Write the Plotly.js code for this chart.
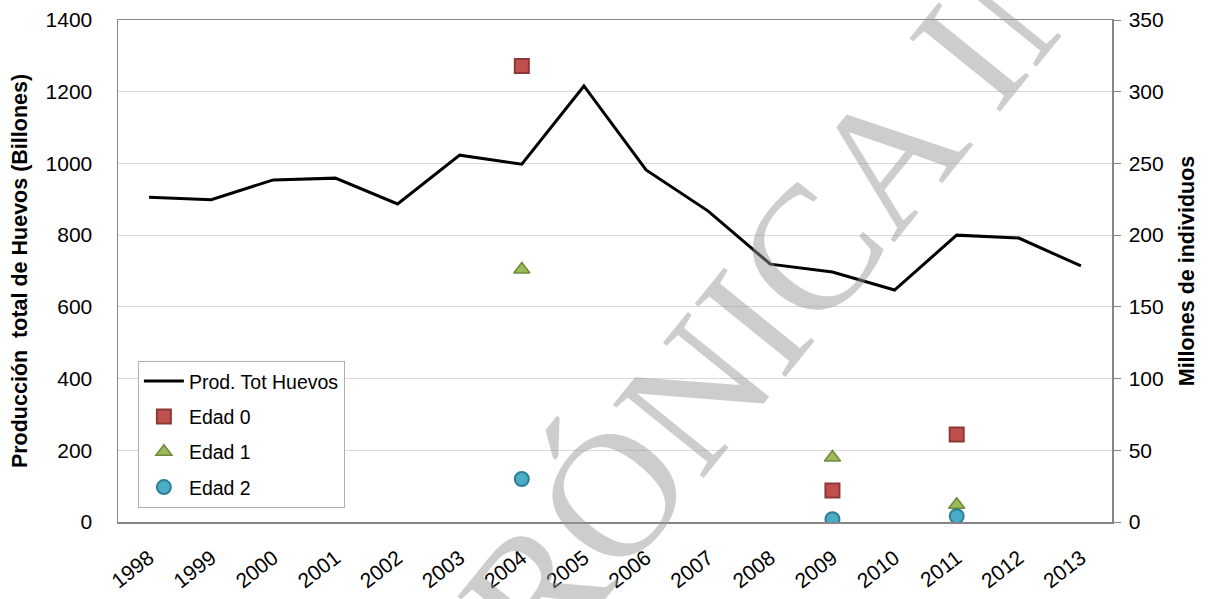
<!DOCTYPE html>
<html>
<head>
<meta charset="utf-8">
<script src="https://cdn.plot.ly/plotly-3.0.1.min.js"></script>
<style>html,body{margin:0;padding:0;background:#fff;}#chart{width:1217px;height:599px;}</style>
</head>
<body>
<div id="chart"></div>
<script>
const years = ["1998","1999","2000","2001","2002","2003","2004","2005","2006","2007","2008","2009","2010","2011","2012","2013"];
const prodTotHuevos = [906, 899, 954, 959, 887, 1023, 998, 1216, 982, 867, 719, 697, 647, 800, 792, 714];
const edadYears = ["2004", "2009", "2011"];
const edad0 = [318, 22, 61];
const edad1 = [176, 45, 12];
const edad2 = [30, 2, 4];

const FONT = "Liberation Sans, Arial, sans-serif";

const traces = [
  {x: years, y: prodTotHuevos, type: "scatter", mode: "lines", name: "Prod. Tot Huevos",
   legendgroup: "a", line: {color: "#000000", width: 3}, yaxis: "y"},
  {x: edadYears, y: edad0, type: "scatter", mode: "markers", name: "Edad 0", yaxis: "y2",
   legendgroup: "b",
   marker: {symbol: "square", size: 14, color: "#C0504D", line: {color: "#8C3836", width: 2}}},
  {x: edadYears, y: edad1, type: "scatter", mode: "markers", name: "Edad 1", yaxis: "y2",
   legendgroup: "c",
   marker: {symbol: "triangle-up", size: 14, color: "#9BBB59", line: {color: "#71893F", width: 1.5}}},
  {x: edadYears, y: edad2, type: "scatter", mode: "markers", name: "Edad 2", yaxis: "y2",
   legendgroup: "d",
   marker: {symbol: "circle", size: 14, color: "#4BACC6", line: {color: "#2C7F96", width: 2}}}
];

const layout = {
  width: 1217, height: 599,
  margin: {l: 118, r: 105, t: 20, b: 77},
  paper_bgcolor: "#ffffff", plot_bgcolor: "#ffffff",
  font: {family: FONT, color: "#000000"},
  showlegend: true,
  legend: {x: 0.02, y: 0.321, xanchor: "left", yanchor: "top",
    bgcolor: "#ffffff", bordercolor: "#b0b0b0", borderwidth: 1,
    font: {family: FONT, size: 19.5, color: "#000"}, tracegroupgap: 7, itemwidth: 40},
  xaxis: {type: "category", categoryorder: "array", categoryarray: years,
    range: [-0.5, 15.5], tickangle: -38, ticks: "", showgrid: false, ticklabelstandoff: 14,
    showline: true, linecolor: "#868686", linewidth: 1.5, mirror: true,
    tickfont: {family: FONT, size: 21, color: "#000"}, zeroline: false},
  yaxis: {range: [0, 1400], dtick: 200, showgrid: true, gridcolor: "#d9d9d9", gridwidth: 1,
    showline: true, linecolor: "#868686", linewidth: 1.5, ticks: "", ticklabelstandoff: 20,
    zeroline: false,
    tickfont: {family: FONT, size: 21, color: "#000"},
    title: {text: "Producción  total de Huevos (Billones)", standoff: 12,
      font: {family: FONT, size: 21.5, color: "#000", weight: "bold"}}},
  yaxis2: {range: [0, 350], dtick: 50, overlaying: "y", side: "right", showgrid: false,
    showline: true, linecolor: "#868686", linewidth: 1.5, ticks: "outside", ticklen: 7,
    tickcolor: "#868686", zeroline: false, ticklabelstandoff: 4,
    tickfont: {family: FONT, size: 21, color: "#000"},
    title: {text: "Millones de individuos", standoff: 16,
      font: {family: FONT, size: 21.5, color: "#000", weight: "bold"}}},
  annotations: [{
    text: "ELECTRÓNICA INÉDITA", xref: "paper", yref: "paper",
    x: (772 - 118) / 994, y: (522 - 298) / 502, xanchor: "center", yanchor: "middle",
    showarrow: false, textangle: -51,
    font: {family: "Liberation Serif, Times New Roman, serif", size: 178,
      color: "rgba(150,150,150,0.48)"}
  }]
};

Plotly.newPlot("chart", traces, layout, {displayModeBar: false, staticPlot: true});
</script>
</body>
</html>
